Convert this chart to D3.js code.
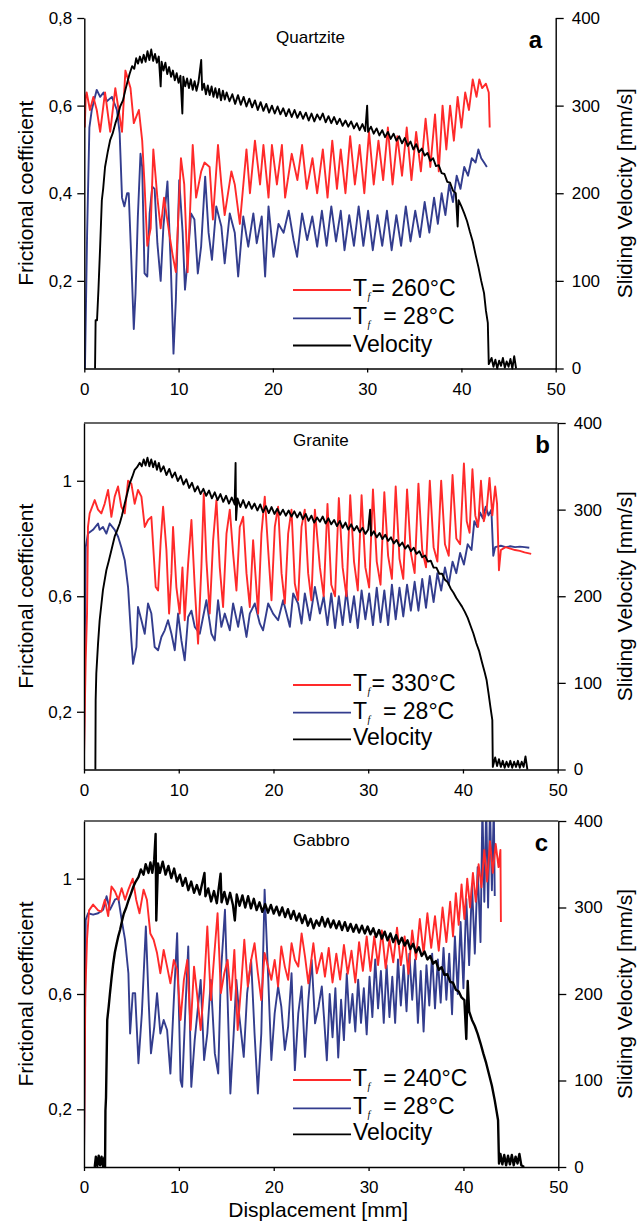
<!DOCTYPE html>
<html>
<head>
<meta charset="utf-8">
<script src="https://cdn.jsdelivr.net/npm/d3@7"></script>
<style>
  body { margin: 0; background: #fff; }
  svg { display: block; font-family: "Liberation Sans", Arial, Helvetica, sans-serif; }
</style>
</head>
<body>
<svg id="chart" width="639" height="1224"></svg>
<script>
// ticks and labels
const xTicks = [0, 10, 20, 30, 40, 50];
const velTicks = [0, 100, 200, 300, 400];
const fricTicksA = [0.2, 0.4, 0.6, 0.8];
const fricTicksBC = [0.2, 0.6, 1];
const rockNames = ["Quartzite", "Granite", "Gabbro"];
const panelLetters = ["a", "b", "c"];
const hotLabels = ["= 260°C", "= 330°C", "= 240°C"];
const coldLabel = "= 28°C";
const velLabel = "Velocity";

// [displacement mm, frictional coefficient]
const quartziteHot = [[0.05,0.55],[0.15,0.62],[0.25,0.63],[0.6,0.59],[0.96,0.62],[1.32,0.59],[1.68,0.54],[2.2,0.63],[2.75,0.54],[3.29,0.64],[3.64,0.59],[4.0,0.54],[4.36,0.68],[4.9,0.64],[5.25,0.56],[5.79,0.59],[6.14,0.52],[6.39,0.42],[6.68,0.28],[7.04,0.32],[7.32,0.5],[7.75,0.39],[8.1,0.32],[8.46,0.39],[9.0,0.31],[9.36,0.26],[9.71,0.22],[10.25,0.48],[10.6,0.42],[10.96,0.22],[11.5,0.51],[11.86,0.39],[12.4,0.45],[12.75,0.47],[13.29,0.46],[13.64,0.34],[14.18,0.51],[14.54,0.42],[14.89,0.35],[15.6,0.45],[15.96,0.42],[16.5,0.33],[17.2,0.5],[17.57,0.4],[18.1,0.52],[18.64,0.42],[19.0,0.51],[19.54,0.39],[19.9,0.51],[20.43,0.42],[20.96,0.51],[21.3,0.39],[22.0,0.49],[22.6,0.43],[23.1,0.51],[23.6,0.41],[24.2,0.48],[24.7,0.4],[25.3,0.5],[25.8,0.39],[26.3,0.52],[26.8,0.41],[27.2,0.5],[27.7,0.4],[28.2,0.53],[28.7,0.42],[29.2,0.51],[29.7,0.4],[30.2,0.54],[30.7,0.42],[31.2,0.52],[31.7,0.43],[32.2,0.55],[32.7,0.42],[33.2,0.53],[33.7,0.44],[34.2,0.55],[34.7,0.43],[35.2,0.54],[35.7,0.45],[36.2,0.57],[36.7,0.46],[37.2,0.58],[37.6,0.45],[38.0,0.6],[38.4,0.5],[38.8,0.6],[39.2,0.52],[39.6,0.62],[40.0,0.55],[40.4,0.63],[40.8,0.59],[41.2,0.66],[41.6,0.62],[41.9,0.66],[42.2,0.64],[42.6,0.65],[42.9,0.63],[43.0,0.55]];
const quartziteCold = [[0.07,0.0],[0.3,0.31],[0.54,0.55],[0.79,0.59],[1.32,0.636],[1.68,0.62],[2.04,0.63],[2.39,0.61],[2.93,0.62],[3.46,0.59],[3.75,0.537],[4.0,0.39],[4.25,0.37],[4.54,0.4],[4.71,0.4],[4.96,0.263],[5.25,0.09],[5.43,0.17],[5.68,0.347],[5.96,0.49],[6.14,0.46],[6.39,0.217],[6.68,0.21],[6.93,0.354],[7.21,0.415],[7.46,0.41],[7.75,0.286],[8.1,0.2],[8.39,0.324],[8.82,0.427],[9.18,0.232],[9.46,0.034],[9.71,0.156],[10.07,0.43],[10.43,0.31],[10.68,0.18],[10.96,0.248],[11.32,0.354],[11.68,0.34],[12.04,0.217],[12.39,0.278],[12.82,0.438],[13.18,0.31],[13.54,0.248],[14.0,0.37],[14.54,0.324],[14.89,0.24],[15.43,0.354],[15.96,0.31],[16.32,0.21],[16.86,0.347],[17.39,0.278],[17.93,0.354],[18.29,0.286],[18.82,0.347],[19.18,0.21],[19.54,0.37],[20.07,0.255],[20.6,0.33],[21.14,0.31],[21.68,0.36],[22.2,0.293],[22.57,0.255],[23.1,0.354],[23.64,0.293],[24.18,0.347],[24.7,0.278],[25.2,0.36],[25.7,0.28],[26.2,0.37],[26.7,0.29],[27.2,0.36],[27.6,0.27],[28.1,0.35],[28.6,0.28],[29.1,0.37],[29.6,0.28],[30.1,0.36],[30.6,0.27],[31.1,0.35],[31.6,0.28],[32.1,0.36],[32.6,0.27],[33.1,0.35],[33.6,0.28],[34.1,0.37],[34.6,0.29],[35.1,0.36],[35.6,0.3],[36.1,0.38],[36.6,0.31],[37.1,0.39],[37.5,0.33],[37.9,0.4],[38.3,0.35],[38.7,0.42],[39.1,0.38],[39.5,0.44],[39.9,0.41],[40.3,0.46],[40.7,0.44],[41.1,0.48],[41.5,0.47],[41.8,0.5],[42.1,0.48],[42.4,0.47],[42.7,0.46]];
// [displacement mm, sliding velocity mm/s]
const quartziteVel = [[1.14,0],[1.2,55],[1.35,55],[1.5,90],[1.68,139],[1.86,192],[2.0,205],[2.2,230],[2.5,248],[2.75,261],[3.0,268],[3.3,280],[3.55,288],[3.8,299],[4.1,306],[4.36,318],[4.6,328],[4.8,336],[5.07,345],[5.3,342],[5.5,354],[5.7,348],[5.9,356],[6.1,349],[6.3,358],[6.5,350],[6.7,362],[6.9,352],[7.1,364],[7.3,351],[7.5,359],[7.7,349],[7.9,356],[8.1,322],[8.2,350],[8.4,340],[8.6,349],[8.8,336],[9.0,344],[9.2,333],[9.4,340],[9.6,329],[9.8,337],[10.0,326],[10.2,334],[10.4,291],[10.5,333],[10.7,322],[10.9,331],[11.1,320],[11.3,330],[11.5,318],[11.7,328],[11.9,317],[12.1,326],[12.4,352],[12.5,318],[12.7,325],[12.9,313],[13.1,323],[13.3,312],[13.5,322],[13.7,310],[13.9,320],[14.1,309],[14.3,319],[14.5,306],[14.7,317],[14.9,307],[15.1,315],[15.4,305],[15.7,313],[16.0,302],[16.3,312],[16.6,301],[16.9,310],[17.2,299],[17.5,308],[17.8,298],[18.1,306],[18.4,295],[18.7,304],[19.0,294],[19.3,302],[19.6,292],[19.9,300],[20.2,291],[20.5,299],[20.8,290],[21.1,297],[21.4,288],[21.7,296],[22.0,287],[22.3,295],[22.6,286],[22.9,293],[23.2,285],[23.5,292],[23.8,283],[24.1,291],[24.4,282],[24.7,290],[25.0,284],[25.3,291],[25.6,281],[25.9,288],[26.2,280],[26.5,287],[26.8,279],[27.1,285],[27.4,277],[27.7,283],[28.0,276],[28.3,282],[28.6,274],[28.9,280],[29.2,272],[29.5,279],[29.8,271],[30.0,300],[30.1,270],[30.4,276],[30.7,268],[31.0,274],[31.3,266],[31.6,272],[31.9,264],[32.2,270],[32.5,262],[32.8,268],[33.1,260],[33.4,265],[33.7,257],[34.0,263],[34.3,254],[34.6,259],[34.9,250],[35.2,256],[35.5,247],[35.8,251],[36.1,243],[36.4,246],[36.7,237],[37.0,240],[37.3,231],[37.6,232],[37.9,223],[38.2,222],[38.5,213],[38.8,212],[39.1,203],[39.4,200],[39.6,162],[39.7,192],[40.0,185],[40.3,177],[40.6,168],[40.9,156],[41.2,145],[41.5,130],[41.8,116],[42.1,100],[42.4,86],[42.6,66],[42.8,52],[42.9,5],[43.2,12],[43.4,2],[43.6,10],[43.8,0],[44.0,9],[44.2,3],[44.4,12],[44.6,1],[44.8,8],[45.0,2],[45.2,11],[45.4,0],[45.6,14],[45.8,0]];

const graniteHot = [[0,0.04],[0.1,0.24],[0.18,0.38],[0.32,0.54],[0.42,0.84],[0.6,0.887],[1.13,0.933],[1.48,0.9],[1.83,0.887],[2.18,0.92],[2.54,0.968],[2.89,0.875],[3.24,0.945],[3.59,0.98],[3.94,0.91],[4.3,0.887],[4.65,1.0],[5.0,0.99],[5.35,0.92],[5.7,0.968],[6.06,0.945],[6.41,0.84],[6.76,0.864],[7.11,0.875],[7.29,0.78],[7.57,0.632],[7.82,0.62],[8.1,0.794],[8.35,0.91],[8.7,0.76],[8.98,0.54],[9.23,0.68],[9.4,0.84],[9.75,0.632],[10.1,0.54],[10.39,0.7],[10.63,0.517],[10.99,0.713],[11.34,0.864],[11.69,0.632],[12.04,0.436],[12.39,0.7],[12.64,0.956],[12.92,0.725],[13.27,0.54],[13.63,0.794],[13.98,0.933],[14.33,0.7],[14.68,0.563],[15.04,0.817],[15.39,0.9],[15.74,0.748],[16.09,0.62],[16.44,0.84],[16.8,0.875],[17.15,0.68],[17.5,0.563],[17.85,0.794],[18.38,0.54],[18.73,0.817],[19.08,0.945],[19.44,0.76],[19.79,0.586],[20.14,0.84],[20.49,0.91],[20.85,0.68],[21.2,0.575],[21.55,0.817],[21.9,0.9],[22.25,0.644],[22.6,0.586],[22.96,0.84],[23.3,0.9],[23.66,0.68],[24.0,0.586],[24.37,0.9],[24.9,0.7],[25.3,0.6],[25.7,0.92],[26.1,0.64],[26.5,0.6],[26.9,0.94],[27.3,0.7],[27.7,0.6],[28.1,0.95],[28.5,0.72],[28.9,0.62],[29.3,0.95],[29.7,0.7],[30.1,0.63],[30.5,0.97],[30.9,0.72],[31.3,0.64],[31.7,0.96],[32.1,0.74],[32.5,0.66],[32.9,0.98],[33.3,0.73],[33.7,0.66],[34.1,0.97],[34.5,0.75],[34.9,0.68],[35.3,0.99],[35.7,0.76],[36.1,0.7],[36.5,1.0],[36.9,0.77],[37.3,0.72],[37.7,1.0],[38.1,0.78],[38.5,0.74],[38.9,1.02],[39.3,0.8],[39.7,0.78],[40.1,1.06],[40.4,0.86],[40.7,0.82],[41.0,1.04],[41.3,0.88],[41.6,0.84],[41.9,1.0],[42.2,0.86],[42.5,0.9],[42.8,1.01],[43.1,0.88],[43.4,0.98],[43.6,0.92],[43.8,0.69],[44.0,0.76],[44.5,0.77],[45.0,0.765],[45.5,0.76],[46.0,0.757],[46.5,0.752],[47.2,0.747]];
const graniteCold = [[0,0.04],[0.1,0.47],[0.18,0.77],[0.42,0.817],[0.95,0.83],[1.48,0.852],[1.65,0.83],[2.0,0.84],[2.36,0.817],[2.71,0.852],[3.24,0.83],[3.6,0.806],[3.94,0.77],[4.3,0.725],[4.65,0.632],[5.0,0.447],[5.18,0.366],[5.53,0.424],[5.7,0.563],[6.06,0.517],[6.41,0.47],[6.76,0.575],[7.11,0.54],[7.46,0.424],[7.82,0.413],[8.17,0.459],[8.52,0.482],[8.87,0.517],[9.23,0.47],[9.58,0.413],[9.93,0.54],[10.28,0.447],[10.63,0.378],[10.99,0.528],[11.34,0.55],[11.69,0.494],[12.22,0.47],[12.57,0.528],[12.92,0.586],[13.45,0.47],[13.8,0.447],[14.15,0.586],[14.5,0.494],[14.86,0.54],[15.39,0.482],[15.74,0.575],[16.27,0.494],[16.62,0.563],[17.15,0.459],[17.5,0.54],[18.03,0.575],[18.56,0.505],[18.9,0.482],[19.44,0.575],[19.96,0.54],[20.49,0.517],[21.02,0.586],[21.73,0.494],[22.08,0.61],[22.6,0.575],[22.96,0.505],[23.31,0.61],[23.84,0.517],[24.37,0.632],[24.9,0.54],[25.3,0.6],[25.7,0.5],[26.1,0.61],[26.5,0.49],[26.9,0.6],[27.3,0.5],[27.7,0.62],[28.1,0.51],[28.5,0.6],[28.9,0.49],[29.3,0.62],[29.7,0.52],[30.1,0.61],[30.5,0.5],[30.9,0.63],[31.3,0.51],[31.7,0.62],[32.1,0.5],[32.5,0.64],[32.9,0.52],[33.3,0.63],[33.7,0.53],[34.1,0.64],[34.5,0.55],[34.9,0.65],[35.3,0.55],[35.7,0.66],[36.1,0.56],[36.5,0.67],[36.9,0.58],[37.3,0.68],[37.7,0.62],[38.1,0.7],[38.5,0.64],[38.9,0.72],[39.3,0.68],[39.7,0.75],[40.1,0.71],[40.5,0.78],[40.9,0.76],[41.2,0.86],[41.5,0.84],[41.8,0.89],[42.1,0.87],[42.4,0.91],[42.7,0.88],[43.0,0.9],[43.2,0.74],[43.4,0.77],[44.0,0.775],[44.5,0.77],[45.0,0.773],[45.5,0.77],[46.0,0.772],[46.5,0.77],[47.0,0.768]];
const graniteVel = [[1.2,0],[1.23,80],[1.3,111],[1.48,145],[1.65,172],[2.0,207],[2.36,230],[2.6,240],[2.89,253],[3.24,269],[3.5,276],[3.77,284],[4.0,293],[4.3,307],[4.55,318],[4.82,330],[5.1,338],[5.35,346],[5.6,349],[5.88,354],[6.1,350],[6.3,358],[6.5,351],[6.7,360],[6.9,350],[7.1,358],[7.3,349],[7.5,356],[7.7,346],[7.9,354],[8.1,344],[8.4,350],[8.7,340],[9.0,347],[9.3,337],[9.6,343],[9.9,333],[10.2,339],[10.5,329],[10.8,335],[11.1,325],[11.4,331],[11.7,321],[12.0,327],[12.3,318],[12.6,324],[12.9,316],[13.2,322],[13.5,313],[13.8,320],[14.1,311],[14.4,318],[14.7,309],[15.0,316],[15.3,307],[15.6,314],[15.9,306],[16.0,354],[16.05,288],[16.2,313],[16.5,303],[16.8,311],[17.1,302],[17.4,309],[17.7,301],[18.0,307],[18.3,299],[18.6,306],[18.9,297],[19.2,304],[19.5,296],[19.8,303],[20.1,295],[20.4,301],[20.7,294],[21.0,300],[21.3,293],[21.6,299],[21.9,292],[22.2,298],[22.5,291],[22.8,297],[23.1,289],[23.4,295],[23.7,287],[24.0,293],[24.3,285],[24.6,291],[24.9,286],[25.2,292],[25.5,284],[25.8,290],[26.1,283],[26.4,288],[26.7,281],[27.0,287],[27.3,279],[27.6,285],[27.9,277],[28.2,283],[28.5,276],[28.8,281],[29.1,274],[29.4,279],[29.7,272],[30.0,277],[30.2,300],[30.3,270],[30.6,275],[30.9,268],[31.2,273],[31.5,266],[31.8,271],[32.1,264],[32.4,268],[32.7,261],[33.0,265],[33.3,258],[33.6,262],[33.9,255],[34.2,259],[34.5,252],[34.8,256],[35.1,249],[35.4,252],[35.7,245],[36.0,247],[36.3,240],[36.6,241],[36.9,233],[37.2,233],[37.5,226],[37.8,226],[38.1,219],[38.4,216],[38.7,209],[39.0,204],[39.3,198],[39.6,193],[39.9,188],[40.2,182],[40.5,175],[40.8,166],[41.1,157],[41.4,146],[41.7,137],[42.0,124],[42.3,112],[42.5,103],[42.7,88],[42.9,72],[43.1,57],[43.15,3],[43.4,14],[43.6,4],[43.8,12],[44.0,3],[44.2,10],[44.4,2],[44.6,9],[44.8,3],[45.0,10],[45.2,2],[45.4,9],[45.6,3],[45.8,10],[46.0,2],[46.2,9],[46.4,3],[46.6,15],[46.8,0]];

const gabbroHot = [[0,0.046],[0.14,0.6],[0.32,0.79],[0.53,0.89],[0.96,0.91],[1.49,0.89],[1.84,0.886],[2.2,0.927],[2.55,0.87],[2.9,0.973],[3.26,0.956],[3.62,0.927],[3.97,0.967],[4.33,0.927],[4.68,0.962],[5.14,1.0],[5.5,0.927],[5.85,0.88],[6.28,0.962],[6.63,0.927],[6.99,0.81],[7.34,0.788],[7.7,0.742],[8.05,0.672],[8.4,0.753],[8.76,0.695],[9.11,0.637],[9.47,0.718],[9.82,0.684],[10.18,0.51],[10.53,0.649],[10.89,0.718],[11.24,0.475],[11.6,0.695],[11.95,0.591],[12.3,0.475],[12.66,0.626],[13.0,0.834],[13.37,0.579],[13.72,0.73],[14.08,0.88],[14.43,0.603],[14.79,0.672],[15.14,0.718],[15.5,0.579],[15.85,0.753],[16.2,0.475],[16.56,0.626],[16.9,0.788],[17.27,0.626],[17.62,0.718],[17.98,0.776],[18.33,0.672],[18.69,0.579],[19.04,0.742],[19.4,0.695],[19.75,0.649],[20.1,0.718],[20.46,0.626],[20.8,0.765],[21.17,0.695],[21.52,0.649],[21.88,0.776],[22.23,0.718],[22.59,0.695],[22.94,0.81],[23.3,0.73],[23.65,0.637],[24.18,0.776],[24.54,0.672],[25.07,0.742],[25.4,0.66],[25.8,0.76],[26.2,0.64],[26.6,0.74],[27.0,0.65],[27.4,0.77],[27.8,0.67],[28.2,0.75],[28.6,0.64],[29.0,0.78],[29.4,0.68],[29.8,0.8],[30.2,0.68],[30.6,0.8],[31.0,0.7],[31.4,0.82],[31.8,0.69],[32.2,0.79],[32.6,0.71],[33.0,0.83],[33.4,0.7],[33.8,0.8],[34.2,0.67],[34.6,0.82],[35.0,0.72],[35.4,0.86],[35.8,0.74],[36.2,0.88],[36.6,0.76],[37.0,0.87],[37.4,0.75],[37.8,0.9],[38.2,0.78],[38.6,0.92],[38.9,0.8],[39.2,0.95],[39.5,0.84],[39.8,0.98],[40.1,0.86],[40.4,1.0],[40.7,0.9],[41.0,1.02],[41.3,0.92],[41.6,1.05],[41.9,0.97],[42.2,1.1],[42.5,0.99],[42.8,1.13],[43.1,1.02],[43.4,1.12],[43.7,1.04],[43.9,1.1],[43.95,0.85]];
const gabbroCold = [[0,0.023],[0.18,0.857],[0.43,0.88],[0.96,0.875],[1.49,0.88],[2.02,0.892],[2.38,0.939],[2.73,0.892],[3.26,0.927],[3.62,0.933],[3.97,0.857],[4.33,0.788],[4.68,0.672],[4.86,0.463],[5.14,0.603],[5.39,0.603],[5.74,0.36],[6.1,0.533],[6.52,0.834],[6.81,0.579],[7.06,0.394],[7.41,0.487],[7.7,0.603],[8.05,0.463],[8.4,0.51],[8.76,0.475],[9.11,0.324],[9.47,0.579],[9.82,0.811],[10.18,0.3],[10.35,0.278],[10.7,0.556],[10.99,0.765],[11.31,0.278],[11.67,0.44],[11.95,0.533],[12.3,0.649],[12.66,0.371],[13.0,0.463],[13.37,0.649],[13.79,0.394],[14.15,0.324],[14.43,0.672],[14.86,0.892],[15.14,0.579],[15.43,0.255],[15.78,0.463],[16.06,0.649],[16.38,0.521],[16.84,0.382],[17.2,0.603],[17.62,0.718],[17.98,0.463],[18.33,0.255],[18.69,0.463],[19.04,0.962],[19.4,0.672],[19.75,0.371],[20.1,0.533],[20.46,0.626],[20.8,0.556],[21.17,0.406],[21.52,0.487],[21.88,0.672],[22.23,0.336],[22.59,0.533],[22.94,0.626],[23.3,0.382],[23.65,0.579],[24.0,0.718],[24.36,0.498],[24.72,0.556],[25.07,0.626],[25.3,0.52],[25.6,0.37],[25.9,0.6],[26.2,0.45],[26.5,0.62],[26.8,0.38],[27.1,0.58],[27.4,0.44],[27.7,0.67],[28.0,0.5],[28.3,0.6],[28.6,0.47],[28.9,0.65],[29.2,0.5],[29.5,0.62],[29.8,0.46],[30.1,0.66],[30.4,0.52],[30.7,0.72],[31.0,0.55],[31.3,0.68],[31.6,0.5],[31.9,0.7],[32.2,0.52],[32.5,0.66],[32.8,0.5],[33.1,0.72],[33.4,0.56],[33.7,0.7],[34.0,0.54],[34.3,0.74],[34.6,0.58],[34.9,0.72],[35.2,0.5],[35.5,0.68],[35.8,0.47],[36.1,0.7],[36.4,0.56],[36.7,0.74],[37.0,0.55],[37.3,0.72],[37.6,0.57],[37.9,0.76],[38.2,0.58],[38.5,0.74],[38.8,0.53],[39.1,0.8],[39.4,0.6],[39.7,0.85],[40.0,0.62],[40.3,0.93],[40.6,0.7],[40.9,0.98],[41.2,0.74],[41.5,1.04],[41.8,0.78],[42.0,1.25],[42.2,0.92],[42.4,1.25],[42.6,0.9],[42.8,1.25],[43.0,0.96],[43.2,1.25],[43.3,0.94]];
const gabbroVel = [[1.13,0],[1.25,12],[1.4,1],[1.55,13],[1.7,2],[1.85,12],[2.0,1],[2.15,11],[2.22,0],[2.26,65],[2.32,80],[2.45,170],[2.6,185],[2.73,200],[2.9,218],[3.08,235],[3.25,248],[3.44,258],[3.6,266],[3.8,274],[4.0,284],[4.2,293],[4.45,300],[4.68,308],[4.95,316],[5.2,324],[5.45,330],[5.74,335],[6.0,344],[6.28,338],[6.5,350],[6.8,340],[7.0,352],[7.2,340],[7.4,355],[7.55,385],[7.62,285],[7.8,351],[8.0,340],[8.3,353],[8.6,338],[8.9,348],[9.2,334],[9.5,345],[9.8,330],[10.1,338],[10.4,325],[10.7,334],[11.0,320],[11.3,330],[11.6,317],[11.9,326],[12.2,315],[12.7,340],[12.8,313],[13.1,322],[13.4,307],[13.7,319],[14.0,305],[14.4,339],[14.5,306],[14.8,318],[15.1,304],[15.4,317],[15.7,303],[15.9,285],[16.1,315],[16.4,302],[16.7,314],[17.0,300],[17.3,313],[17.6,299],[17.9,310],[18.2,297],[18.5,306],[18.8,295],[19.1,304],[19.4,294],[19.7,303],[20.0,293],[20.3,301],[20.6,291],[20.9,300],[21.2,289],[21.5,298],[21.8,287],[22.1,296],[22.4,285],[22.7,293],[23.0,282],[23.3,291],[23.6,279],[23.9,287],[24.2,276],[24.5,285],[24.8,279],[25.1,289],[25.4,278],[25.7,287],[26.0,277],[26.3,285],[26.6,276],[26.9,284],[27.2,274],[27.5,283],[27.8,273],[28.1,281],[28.4,272],[28.7,280],[29.0,271],[29.3,279],[29.6,270],[29.9,278],[30.2,269],[30.5,276],[30.8,266],[31.1,274],[31.4,264],[31.7,272],[32.0,262],[32.3,270],[32.6,260],[32.9,268],[33.2,258],[33.5,265],[33.8,256],[34.1,262],[34.4,252],[34.7,258],[35.0,248],[35.3,254],[35.6,244],[35.9,249],[36.2,240],[36.5,244],[36.8,235],[37.1,238],[37.4,228],[37.7,231],[38.0,222],[38.3,223],[38.6,214],[38.9,213],[39.2,205],[39.5,203],[39.8,196],[40.1,193],[40.3,148],[40.45,215],[40.6,180],[40.9,170],[41.2,163],[41.5,154],[41.8,143],[42.1,131],[42.4,120],[42.7,107],[43.0,94],[43.3,77],[43.5,64],[43.65,54],[43.75,4],[43.9,15],[44.1,3],[44.3,14],[44.5,2],[44.7,13],[44.9,3],[45.1,14],[45.3,2],[45.5,12],[45.7,4],[45.9,15],[46.1,2],[46.4,0]];

const hotColor = "#ff2a2a";
const coldColor = "#333d8e";
const velColor = "#000";
const fontFamily = "'Liberation Sans', Arial, Helvetica, sans-serif";
const subFont = "'Liberation Serif', 'Times New Roman', serif";

const svg = d3.select("#chart");

const panels = [
    { name: rockNames[0], letter: panelLetters[0], hot: quartziteHot, cold: quartziteCold, vel: quartziteVel,
      hotLabel: hotLabels[0], fTicks: fricTicksA, fMax: 0.8, left: 84.3, right: 555.7, top: 18, bottom: 368.5,
      topLine: false, legendY: [290, 318.3, 345.5], eqX: [371.5, 383.3], titleX: 276, titleY: 43,
      letterX: 542, letterY: 48, velWidth: 1.9 },
    { name: rockNames[1], letter: panelLetters[1], hot: graniteHot, cold: graniteCold, vel: graniteVel,
      hotLabel: hotLabels[1], fTicks: fricTicksBC, fMax: 1.2, left: 84, right: 557.7, top: 423, bottom: 769.5,
      topLine: true, legendY: [685, 712.7, 739.3], eqX: [371.5, 383], titleX: 293, titleY: 446,
      letterX: 550, letterY: 453, velWidth: 1.9 },
    { name: rockNames[2], letter: panelLetters[2], hot: gabbroHot, cold: gabbroCold, vel: gabbroVel,
      hotLabel: hotLabels[2], fTicks: fricTicksBC, fMax: 1.2, left: 84, right: 558.3, top: 821, bottom: 1167,
      topLine: true, legendY: [1080, 1108.3, 1134.3], eqX: [383.3, 383.3], titleX: 293, titleY: 846,
      letterX: 548, letterY: 851, velWidth: 2.4 }
];

function styleAxis(sel) {
    sel.attr("font-family", fontFamily).attr("font-size", 17);
    sel.select(".domain").attr("stroke", "#000").attr("stroke-width", 1.4);
    sel.selectAll(".tick line").attr("stroke", "#000").attr("stroke-width", 1.3);
    sel.selectAll(".tick text").attr("fill", "#000");
}

function fricFormat(d) {
    return String(d).replace(".", ",");
}

function drawPanel(p, i) {
    const x = d3.scaleLinear().domain([0, 50]).range([p.left, p.right]);
    const yF = d3.scaleLinear().domain([0, p.fMax]).range([p.bottom, p.top]);
    const yV = d3.scaleLinear().domain([0, 400]).range([p.bottom, p.top]);

    const g = svg.append("g");
    const clipId = "clip-" + p.letter;
    svg.append("defs").append("clipPath").attr("id", clipId)
        .append("rect")
        .attr("x", p.left).attr("y", p.top)
        .attr("width", p.right - p.left).attr("height", p.bottom - p.top + 2);

    // data lines
    const fLine = d3.line().x(d => x(d[0])).y(d => yF(d[1]));
    const vLine = d3.line().x(d => x(d[0])).y(d => yV(d[1]));
    const lines = g.append("g").attr("clip-path", `url(#${clipId})`)
        .attr("fill", "none").attr("stroke-linejoin", "round");
    lines.append("path").datum(p.cold).attr("d", fLine)
        .attr("stroke", coldColor).attr("stroke-width", 1.9);
    lines.append("path").datum(p.hot).attr("d", fLine)
        .attr("stroke", hotColor).attr("stroke-width", 1.9);
    lines.append("path").datum(p.vel).attr("d", vLine)
        .attr("stroke", velColor).attr("stroke-width", p.velWidth);

    // axes
    g.append("g").attr("transform", `translate(0,${p.bottom})`)
        .call(d3.axisBottom(x).tickValues(xTicks).tickSize(4).tickPadding(10).tickSizeOuter(0))
        .call(styleAxis);
    g.append("g").attr("transform", `translate(${p.left},0)`)
        .call(d3.axisLeft(yF).tickValues(p.fTicks).tickFormat(fricFormat).tickSize(7).tickPadding(5).tickSizeOuter(0))
        .call(styleAxis);
    g.append("g").attr("transform", `translate(${p.right},0)`)
        .call(d3.axisRight(yV).tickValues(velTicks).tickSize(8).tickPadding(8).tickSizeOuter(0))
        .call(styleAxis);
    if (p.topLine) {
        g.append("line")
            .attr("x1", p.left).attr("x2", p.right)
            .attr("y1", p.top).attr("y2", p.top)
            .attr("stroke", "#333").attr("stroke-width", 1.3);
    }

    // axis titles
    const midY = (p.top + p.bottom) / 2;
    g.append("text")
        .attr("transform", `translate(33,${midY}) rotate(-90)`)
        .attr("text-anchor", "middle")
        .attr("font-family", fontFamily).attr("font-size", 21)
        .text("Frictional coefficient");
    g.append("text")
        .attr("transform", `translate(632,${midY}) rotate(-90)`)
        .attr("text-anchor", "middle")
        .attr("font-family", fontFamily).attr("font-size", 21)
        .text("Sliding Velocity [mm/s]");

    // rock name and panel letter
    g.append("text")
        .attr("x", p.titleX).attr("y", p.titleY)
        .attr("font-family", fontFamily).attr("font-size", 17)
        .text(p.name);
    g.append("text")
        .attr("x", p.letterX).attr("y", p.letterY)
        .attr("text-anchor", "end")
        .attr("font-family", fontFamily).attr("font-size", 24).attr("font-weight", "bold")
        .text(p.letter);

    // legend
    const legendRows = [
        { color: hotColor, label: p.hotLabel, sub: true, eq: p.eqX[0] },
        { color: coldColor, label: coldLabel, sub: true, eq: p.eqX[1] },
        { color: velColor, label: velLabel, sub: false }
    ];
    legendRows.forEach((r, k) => {
        const ly = p.legendY[k];
        g.append("line")
            .attr("x1", 293).attr("x2", 351)
            .attr("y1", ly).attr("y2", ly)
            .attr("stroke", r.color).attr("stroke-width", 1.8);
        const t = g.append("text")
            .attr("x", 353).attr("y", ly + 6)
            .attr("font-family", fontFamily).attr("font-size", 23);
        if (r.sub) {
            // T with italic subscript f, then the temperature
            t.append("tspan").text("T");
            t.append("tspan")
                .attr("x", 367.5).attr("dy", 4)
                .attr("font-family", subFont).attr("font-style", "italic").attr("font-size", 10)
                .text("f");
            t.append("tspan")
                .attr("x", r.eq).attr("dy", -4)
                .text(r.label);
        } else {
            t.text(r.label);
        }
    });

    if (i === panels.length - 1) {
        g.append("text")
            .attr("x", (p.left + p.right) / 2 - 3).attr("y", 1217)
            .attr("text-anchor", "middle")
            .attr("font-family", fontFamily).attr("font-size", 21)
            .text("Displacement [mm]");
    }
}

panels.forEach(drawPanel);
</script>
</body>
</html>
